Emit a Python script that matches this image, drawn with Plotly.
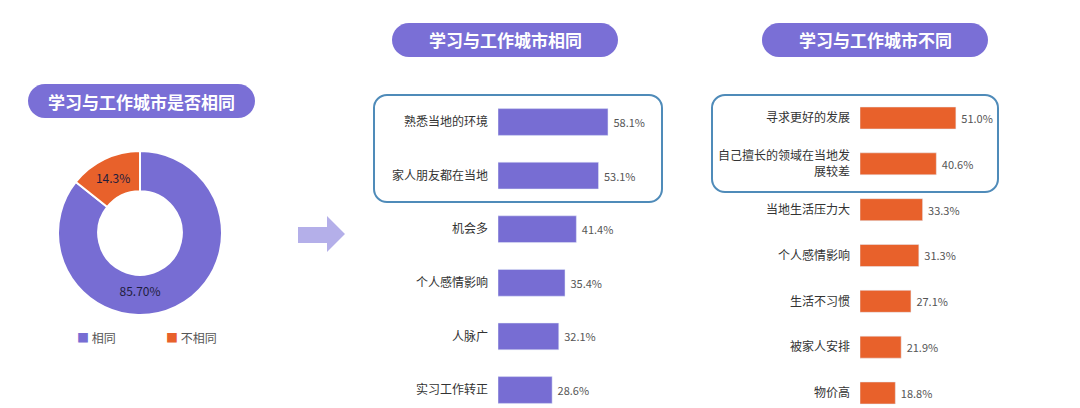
import plotly.graph_objects as go

W, H = 1080, 408

# data
pie_labels = ['相同', '不相同']
pie_values = [85.7, 14.3]
pie_text = ['85.70%', '14.3%']

same_labels = ['熟悉当地的环境', '家人朋友都在当地', '机会多', '个人感情影响', '人脉广', '实习工作转正']
same_values = [58.1, 53.1, 41.4, 35.4, 32.1, 28.6]

diff_labels = ['寻求更好的发展', '自己擅长的领域在当地发<br>展较差', '当地生活压力大', '个人感情影响',
               '生活不习惯', '被家人安排', '物价高']
diff_values = [51.0, 40.6, 33.3, 31.3, 27.1, 21.9, 18.8]

titles = ['学习与工作城市是否相同', '学习与工作城市相同', '学习与工作城市不同']

PURPLE = '#776dd3'
ORANGE = '#e8612b'
PILL = '#7a6fd6'
BOX = '#4f8bb9'
FONT = 'Noto Sans CJK SC'


def px(x):
    return x / W


def py(y):
    return 1 - y / H


def rounded_rect(x0, y0, x1, y1, r):
    k = 0.5523 * r
    pts = [
        ('M', [(x0 + r, y0)]),
        ('L', [(x1 - r, y0)]),
        ('C', [(x1 - r + k, y0), (x1, y0 + r - k), (x1, y0 + r)]),
        ('L', [(x1, y1 - r)]),
        ('C', [(x1, y1 - r + k), (x1 - r + k, y1), (x1 - r, y1)]),
        ('L', [(x0 + r, y1)]),
        ('C', [(x0 + r - k, y1), (x0, y1 - r + k), (x0, y1 - r)]),
        ('L', [(x0, y0 + r)]),
        ('C', [(x0, y0 + r - k), (x0 + r - k, y0), (x0 + r, y0)]),
    ]
    s = ''
    for cmd, ps in pts:
        s += cmd + ' '.join(f'{px(a):.5f},{py(b):.5f}' for a, b in ps) + ' '
    return s + 'Z'


fig = go.Figure()

# donut
fig.add_trace(go.Pie(
    labels=pie_labels, values=pie_values, text=pie_text, textinfo='text',
    hole=0.51, sort=False, direction='clockwise', rotation=0,
    marker=dict(colors=[PURPLE, ORANGE], line=dict(color='white', width=2)),
    textfont=dict(family=FONT, size=12, color='#1f1d3d'),
    insidetextorientation='horizontal', textposition='inside',
    domain=dict(x=[px(58), px(222)], y=[py(315), py(151)]),
    showlegend=False,
))

# bars: same city
fig.add_trace(go.Bar(
    x=same_values, y=same_labels, orientation='h', xaxis='x', yaxis='y',
    marker_color=PURPLE, width=0.5,
    text=[f' {v:.1f}%' for v in same_values], textposition='outside', cliponaxis=False,
    textfont=dict(family=FONT, size=11, color='#555555'), showlegend=False,
))

# bars: different city
fig.add_trace(go.Bar(
    x=diff_values, y=diff_labels, orientation='h', xaxis='x2', yaxis='y2',
    marker_color=ORANGE, width=0.48,
    text=[f' {v:.1f}%' for v in diff_values], textposition='outside', cliponaxis=False,
    textfont=dict(family=FONT, size=11, color='#555555'), showlegend=False,
))

s1, c1 = 53.6, 122
s2, c2 = 45.83, 118

axis_common = dict(showgrid=False, zeroline=False, showline=False, showticklabels=False, fixedrange=True)
ycommon = dict(showgrid=False, zeroline=False, showline=False, ticks='', ticklabelstandoff=9,
               tickfont=dict(family=FONT, size=12, color='#333333'), type='category', fixedrange=True)

fig.update_layout(
    width=W, height=H,
    margin=dict(l=0, r=0, t=0, b=0),
    paper_bgcolor='white', plot_bgcolor='white',
    font=dict(family=FONT),
    xaxis=dict(domain=[px(498), px(498 + 70 * 1.893)], range=[0, 70], anchor='y', **axis_common),
    yaxis=dict(domain=[0, py(c1 - s1 / 2)], range=[(H - c1) / s1, -0.5], anchor='x', **ycommon),
    xaxis2=dict(domain=[px(860), px(860 + 70 * 1.88)], range=[0, 70], anchor='y2', **axis_common),
    yaxis2=dict(domain=[0, py(c2 - s2 / 2)], range=[(H - c2) / s2, -0.5], anchor='x2', **ycommon),
)

shapes = []
annotations = []

# title pills
pills = [(28, 84, 255, 118), (392, 23, 618, 57), (762, 23, 988, 57)]
for (x0, y0, x1, y1), t in zip(pills, titles):
    shapes.append(dict(type='path', xref='paper', yref='paper', path=rounded_rect(x0, y0, x1, y1, 17),
                       fillcolor=PILL, line=dict(width=0), layer='below'))
    annotations.append(dict(x=px((x0 + x1) / 2), y=py((y0 + y1) / 2), xref='paper', yref='paper',
                            xanchor='center', yanchor='middle',
                            text=f'<b>{t}</b>', showarrow=False,
                            font=dict(family=FONT, size=17, color='white')))

# highlight boxes
for x0, y0, x1, y1 in [(374, 95, 662, 202), (712, 95, 998, 192)]:
    shapes.append(dict(type='path', xref='paper', yref='paper', path=rounded_rect(x0, y0, x1, y1, 13),
                       fillcolor='rgba(0,0,0,0)', line=dict(color=BOX, width=2), layer='below'))

# arrow
arrow = [(298, 227), (327, 227), (327, 216), (345, 234), (327, 252), (327, 243), (298, 243)]
path = 'M' + ' L'.join(f'{px(a):.5f},{py(b):.5f}' for a, b in arrow) + ' Z'
shapes.append(dict(type='path', xref='paper', yref='paper', path=path,
                   fillcolor='#b4afe9', line=dict(width=0)))

# legend for donut
for xl, lab, col in [(75, pie_labels[0], PURPLE), (164, pie_labels[1], ORANGE)]:
    annotations.append(dict(x=px(xl), y=py(337), xref='paper', yref='paper',
                            xanchor='left', yanchor='middle',
                            text=f"<span style='color:{col}'>■</span> {lab}", showarrow=False,
                            font=dict(family=FONT, size=12, color='#555555')))

fig.update_layout(shapes=shapes, annotations=annotations)

fig.write_html('out.html', config={'displayModeBar': False},
               post_script="document.body.style.margin='0px';")
